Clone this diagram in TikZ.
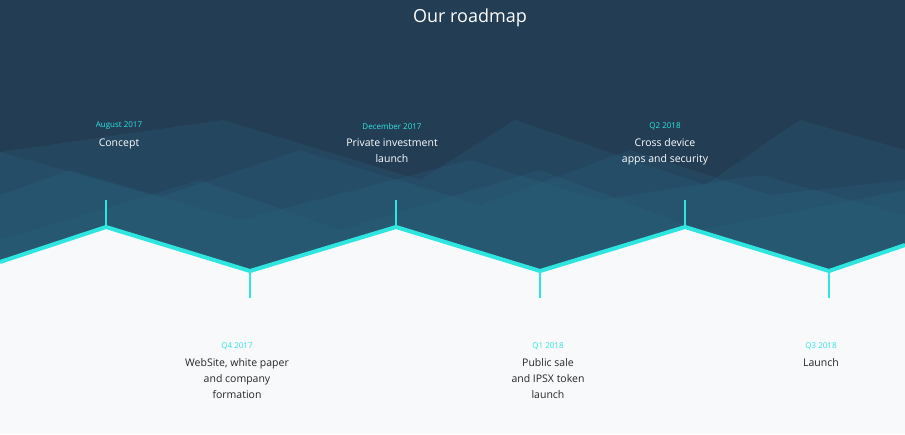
\documentclass[tikz,border=0pt]{standalone}
\usepackage{fontspec}
\setmainfont{Open Sans}
\definecolor{navy}{HTML}{233D55}
\definecolor{teal}{HTML}{2A6A85}
\definecolor{aqua}{HTML}{2EE6DF}
\definecolor{paper}{HTML}{F7F9FB}
\tikzset{
  date/.style={text=aqua, font=\fontsize{8}{10}\selectfont},
  event/.style={font=\fontsize{10.5}{16}\selectfont, align=center},
  layer/.style={fill=teal, fill opacity=0.22, draw=none},
  tick/.style={draw=aqua, line width=1.3pt}
}
\begin{document}
\begin{tikzpicture}[x=1pt,y=-1pt]
\useasboundingbox (0,0) rectangle (905,434);
\fill[navy] (0,0) rectangle (905,434);
% layered background
\fill[layer] (0,152) -- (223,120) -- (420,180) -- (515,120) -- (705,185) -- (800,120) -- (905,150) -- (905,300) -- (0,300) -- cycle;
\fill[layer] (0,152) -- (160,197) -- (300,150) -- (480,205) -- (630,150) -- (770,195) -- (905,180) -- (905,300) -- (0,300) -- cycle;
\fill[layer] (0,195) -- (70,170) -- (240,220) -- (470,160) -- (600,200) -- (760,175) -- (905,215) -- (905,300) -- (0,300) -- cycle;
\fill[layer] (0,240) -- (200,180) -- (340,230) -- (540,170) -- (700,230) -- (905,190) -- (905,300) -- (0,300) -- cycle;
% zig-zag timeline
\coordinate (s) at (0,262);
\coordinate (p1) at (106,227);
\coordinate (t1) at (250,271);
\coordinate (p2) at (396,227);
\coordinate (t2) at (540,271);
\coordinate (p3) at (685,227);
\coordinate (t3) at (829,271);
\coordinate (e) at (905,245);
\fill[paper] (s) -- (p1) -- (t1) -- (p2) -- (t2) -- (p3) -- (t3) -- (e) -- (905,434) -- (0,434) -- cycle;
\draw[aqua, line width=4pt, line join=miter] (s) -- (p1) -- (t1) -- (p2) -- (t2) -- (p3) -- (t3) -- (e);
\foreach \p in {p1,p2,p3} \draw[tick] (\p) -- ++(0,-27);
\foreach \t in {t1,t2,t3} \draw[tick] (\t) -- ++(0,27);
% title
\node[text=white, font=\fontsize{18}{20}\selectfont] (title) at (470,18) {Our roadmap};
% events above
\node[date] (d1) at (119,126) {August 2017};
\node[event, text=white, anchor=north] (e1) at (119,135) {Concept};
\node[date] (d2) at (392,126) {December 2017};
\node[event, text=white, anchor=north] (e2) at (392,135) {Private investment\\launch};
\node[date] (d3) at (665,126) {Q2 2018};
\node[event, text=white, anchor=north] (e3) at (665,135) {Cross device\\apps and security};
% events below
\node[date] (d4) at (237,346) {Q4 2017};
\node[event, text=black!85, anchor=north] (e4) at (237,355) {WebSite, white paper\\and company\\formation};
\node[date] (d5) at (548,346) {Q1 2018};
\node[event, text=black!85, anchor=north] (e5) at (548,355) {Public sale\\and IPSX token\\launch};
\node[date] (d6) at (821,346) {Q3 2018};
\node[event, text=black!85, anchor=north] (e6) at (821,355) {Launch};
\end{tikzpicture}
\end{document}
